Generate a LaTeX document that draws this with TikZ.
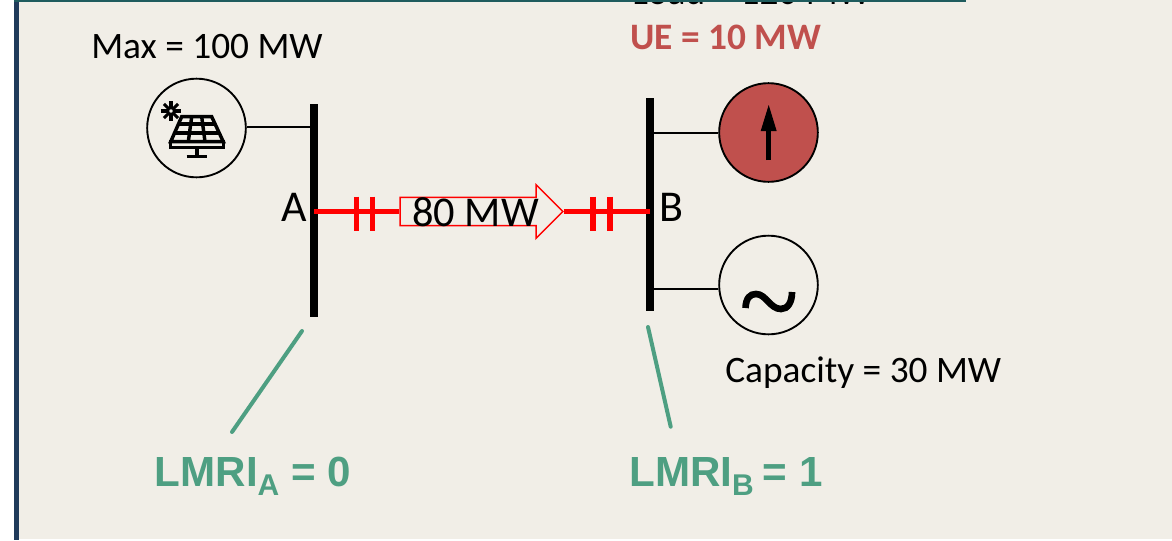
\documentclass[tikz,border=0pt]{standalone}
\usepackage{fontspec}
\setmainfont{Carlito}
\newfontfamily\armfont{Liberation Sans}
\usetikzlibrary{shapes,shapes.arrows,calc}
\definecolor{panelc}{HTML}{F1EEE7}
\definecolor{barc}{HTML}{1F3A5A}
\definecolor{topc}{HTML}{1F5C5E}
\definecolor{tagc}{HTML}{4E9F82}
\definecolor{uec}{HTML}{C0504D}
\tikzstyle{bus}=[rectangle,fill=black,minimum width=6pt,minimum height=160pt,inner sep=0pt]
\tikzstyle{unit}=[circle,draw=black,line width=1.4pt,minimum size=74pt,inner sep=0pt]
\tikzstyle{wire}=[draw=black,line width=1.5pt]
\tikzstyle{branch}=[draw=red,line width=3.8pt]
\tikzstyle{tick}=[draw=red,line width=4pt]
\tikzstyle{tag}=[draw=tagc,line width=3pt,line cap=round]
\tikzstyle{txt}=[inner sep=0pt,anchor=base west,font=\fontsize{28}{34}\selectfont]
\tikzstyle{lmri}=[inner sep=0pt,anchor=base west,text=tagc,font=\armfont\bfseries\fontsize{31.6}{36}\selectfont]
\newcommand{\lmrisub}[1]{\raisebox{-7.3pt}{\fontsize{22.5}{24}\selectfont #1}}
\begin{document}
\begin{tikzpicture}[x=0.75pt,y=-0.75pt]
      \useasboundingbox (0,0) rectangle (1172,540);
      \clip (0,0) rectangle (1172,540);
      \fill[white] (0,0) rectangle (1172,540);
      \fill[panelc] (19,0) rectangle (1172,539);
      \fill[barc] (14,0) rectangle (19,540);

      % buses and units
      \node [bus] (busA) at (314,210.5) {};
      \node [bus] (busB) at (650,204.5) {};
      \node [unit] (solar) at (196.5,128) {};
      \node [unit,fill=uec] (load) at (768.5,132.5) {};
      \node [unit] (gen) at (768.5,285) {};
      \coordinate (genstub) at ($(gen.west)+(0,3.5)$);
      \coordinate (solarstub) at ($(solar.east)+(0,-1.5)$);

      \path [wire] (solarstub) -- (solarstub -| busA.west);
      \path [wire] (load.west) -- (load.west -| busB.east);
      \path [wire] (genstub) -- (genstub -| busB.east);

      % branch with the flow arrow
      \node [single arrow,draw=red,line width=1.1pt,fill=panelc,inner sep=0pt,
             text height=20pt,text depth=0pt,text width=0pt,
             minimum height=122pt,single arrow head extend=9.5pt,
             single arrow tip angle=90,single arrow head indent=0pt] (flow) at (474.5,211.5) {};
      \path [branch] (busA.center |- flow.west) -- (flow.west);
      \path [branch] (flow.tip) -- (busB.center |- flow.tip);
      \foreach \x in {356.7,372.7,593,610} {
        \path [tick] (\x,196.5) -- (\x,230.5);
      }
      \node [txt,font=\fontsize{31.8}{38}\selectfont] (flowtxt) at (412,226) {80 MW};
      \node [txt,font=\fontsize{33}{40}\selectfont] (labA) at (281,221) {A};
      \node [txt,font=\fontsize{33}{40}\selectfont] (labB) at (659,221.5) {B};

      % solar panel icon
      \begin{scope}[line width=2.6pt,line join=miter]
        \draw (181.7,116.7) -- (211.7,116.7) -- (223.3,141.7) -- (170.7,141.7) -- cycle;
        \draw (170.7,141.7) rectangle (223.3,147.3);
        \draw (177.5,124) -- (216,124);
        \draw (174,133) -- (220,133);
        \draw (191.7,116.7) -- (188.3,141.7);
        \draw (201.7,116.7) -- (205,141.7);
        \draw (197,147.3) -- (197,156.7);
        \draw (186.7,156.7) -- (207,156.7);
      \end{scope}
      \foreach \a in {0,45,...,315} {
        \draw [line width=2.3pt] ($(171,111)+(\a:3)$) -- ($(171,111)+(\a:10)$);
      }
      \draw [line width=1.6pt] (171,111) circle (3);

      % load arrow and generator wave
      \draw [line width=4pt] (768.7,160) -- (768.7,128);
      \fill [black] (768.7,105) -- (776.7,131) -- (760.7,131) -- cycle;
      \draw [line width=5pt] (745.5,308) .. controls (746,298) and (750,294) .. (756,294)
        .. controls (766,294) and (770,309) .. (781,309)
        .. controls (788,309) and (792,302) .. (792,292);

      % texts
      \node [txt] (maxtxt) at (91,58) {Max = 100 MW};
      \node [txt] (loadtxt) at (632,4) {Load = 120 MW};
      \node [txt,text=uec,font=\bfseries\fontsize{28}{34}\selectfont] (uetxt) at (630,49) {UE = 10 MW};
      \node [txt] (captxt) at (725,382) {Capacity = 30 MW};
      \node [lmri] (lmriA) at (154.5,486) {LMRI\lmrisub{A} = 0};
      \node [lmri] (lmriB) at (629,486) {LMRI\lmrisub{B}\kern-2pt{} = 1};

      \coordinate (tagAtop) at (302,331);
      \coordinate (tagAend) at (232,432);
      \coordinate (tagBtop) at (648,327);
      \coordinate (tagBend) at (670.7,426.7);
      \path [tag] (tagAtop) -- (tagAend);
      \path [tag] (tagBtop) -- (tagBend);

      \fill[topc] (14,0) rectangle (966,1.5);
\end{tikzpicture}
\end{document}
